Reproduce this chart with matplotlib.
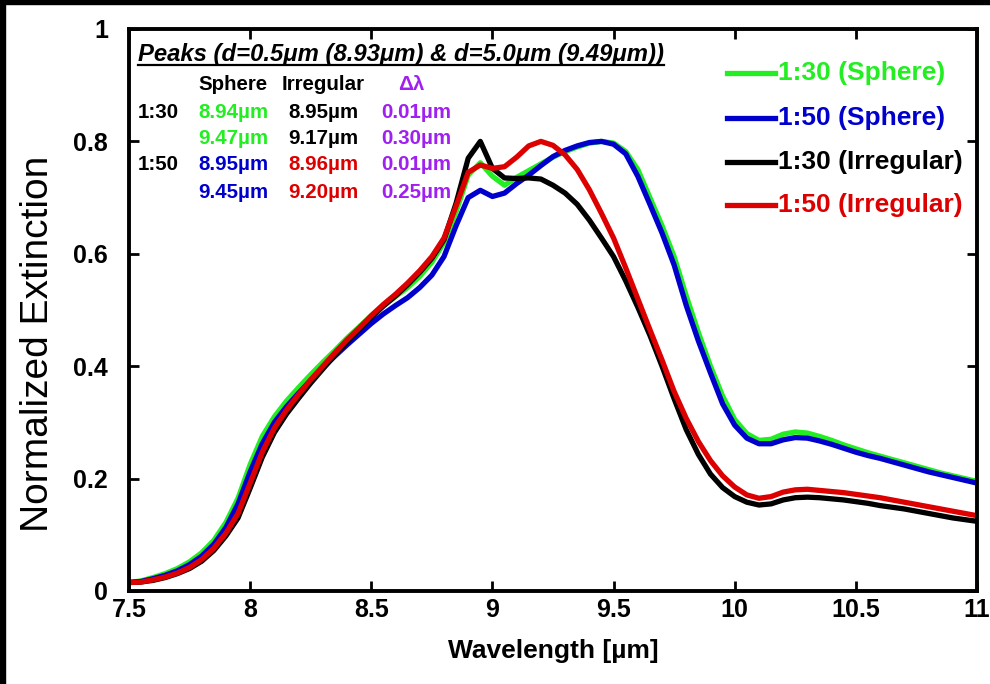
import matplotlib
matplotlib.use("Agg")
import matplotlib.pyplot as plt
from matplotlib.patches import Rectangle
from matplotlib.lines import Line2D

plt.rcParams['font.family'] = ['Liberation Sans', 'DejaVu Sans']

wavelength = [7.50, 7.55, 7.60, 7.65, 7.70, 7.75, 7.80, 7.85, 7.90, 7.95,
              8.00, 8.05, 8.10, 8.15, 8.20, 8.25, 8.30, 8.35, 8.40, 8.45,
              8.50, 8.55, 8.60, 8.65, 8.70, 8.75, 8.80, 8.85, 8.90, 8.95,
              9.00, 9.05, 9.10, 9.15, 9.20, 9.25, 9.30, 9.35, 9.40, 9.45,
              9.50, 9.55, 9.60, 9.65, 9.70, 9.75, 9.80, 9.85, 9.90, 9.95,
              10.00, 10.05, 10.10, 10.15, 10.20, 10.25, 10.30, 10.35, 10.40, 10.45,
              10.50, 10.55, 10.60, 10.65, 10.70, 10.75, 10.80, 10.85, 10.90, 10.95,
              11.00]

sphere_130 = [0.015, 0.018, 0.024, 0.031, 0.040, 0.052, 0.068, 0.090, 0.122, 0.165,
              0.225, 0.275, 0.310, 0.338, 0.362, 0.385, 0.407, 0.428, 0.450, 0.470,
              0.490, 0.508, 0.524, 0.540, 0.560, 0.585, 0.620, 0.675, 0.740, 0.762,
              0.738, 0.722, 0.736, 0.748, 0.760, 0.772, 0.782, 0.790, 0.797, 0.800,
              0.797, 0.782, 0.750, 0.700, 0.650, 0.595, 0.525, 0.460, 0.400, 0.347,
              0.305, 0.280, 0.268, 0.270, 0.279, 0.283, 0.281, 0.275, 0.268, 0.260,
              0.253, 0.246, 0.240, 0.234, 0.228, 0.222, 0.216, 0.210, 0.205, 0.200,
              0.195]

sphere_150 = [0.015, 0.017, 0.022, 0.028, 0.036, 0.047, 0.062, 0.083, 0.113, 0.155,
              0.212, 0.262, 0.300, 0.328, 0.352, 0.375, 0.397, 0.418, 0.438, 0.457,
              0.476, 0.493, 0.508, 0.522, 0.540, 0.562, 0.595, 0.650, 0.700, 0.713,
              0.702, 0.708, 0.725, 0.740, 0.757, 0.773, 0.784, 0.792, 0.798, 0.800,
              0.795, 0.778, 0.738, 0.688, 0.637, 0.580, 0.508, 0.445, 0.388, 0.333,
              0.295, 0.272, 0.262, 0.262, 0.269, 0.273, 0.272, 0.267, 0.261, 0.254,
              0.247, 0.241, 0.236, 0.230, 0.224, 0.218, 0.212, 0.207, 0.202, 0.197,
              0.192]

irregular_130 = [0.015, 0.016, 0.019, 0.024, 0.031, 0.040, 0.053, 0.072, 0.098, 0.130,
                 0.183, 0.238, 0.282, 0.315, 0.343, 0.370, 0.395, 0.420, 0.443, 0.465,
                 0.487, 0.507, 0.525, 0.545, 0.567, 0.592, 0.625, 0.690, 0.770, 0.800,
                 0.752, 0.735, 0.734, 0.735, 0.733, 0.722, 0.708, 0.688, 0.660, 0.628,
                 0.595, 0.552, 0.505, 0.455, 0.400, 0.342, 0.287, 0.243, 0.208, 0.184,
                 0.168, 0.158, 0.153, 0.155, 0.162, 0.166, 0.167, 0.166, 0.164, 0.162,
                 0.159, 0.156, 0.152, 0.149, 0.146, 0.142, 0.138, 0.134, 0.130, 0.127,
                 0.124]

irregular_150 = [0.015, 0.016, 0.020, 0.025, 0.032, 0.042, 0.056, 0.076, 0.103, 0.138,
                 0.192, 0.247, 0.290, 0.322, 0.350, 0.376, 0.400, 0.424, 0.447, 0.468,
                 0.490, 0.510, 0.528, 0.548, 0.570, 0.595, 0.628, 0.685, 0.745, 0.758,
                 0.752, 0.755, 0.772, 0.792, 0.800, 0.793, 0.776, 0.750, 0.714, 0.672,
                 0.628, 0.575, 0.520, 0.465, 0.411, 0.355, 0.307, 0.266, 0.232, 0.205,
                 0.185, 0.171, 0.165, 0.168, 0.176, 0.180, 0.181, 0.179, 0.177, 0.175,
                 0.172, 0.169, 0.166, 0.162, 0.158, 0.154, 0.150, 0.146, 0.142, 0.138,
                 0.134]

series_labels = ['1:30 (Sphere)', '1:50 (Sphere)', '1:30 (Irregular)', '1:50 (Irregular)']
series_colors = ['#22ee22', '#0000cc', '#000000', '#dd0000']
series_values = [sphere_130, sphere_150, irregular_130, irregular_150]

xticks = [7.5, 8, 8.5, 9, 9.5, 10, 10.5, 11]
xticklabels = ['7.5', '8', '8.5', '9', '9.5', '10', '10.5', '11']
yticks = [0, 0.2, 0.4, 0.6, 0.8, 1]
yticklabels = ['0', '0.2', '0.4', '0.6', '0.8', '1']

title_text = 'Peaks (d=0.5\u03bcm (8.93\u03bcm) & d=5.0\u03bcm (9.49\u03bcm))'
col_headers = ['Sphere', 'Irregular', '\u0394\u03bb']
row_labels = ['1:30', '', '1:50', '']
sphere_peaks = ['8.94\u00b5m', '9.47\u00b5m', '8.95\u00b5m', '9.45\u00b5m']
irregular_peaks = ['8.95\u00b5m', '9.17\u00b5m', '8.96\u00b5m', '9.20\u00b5m']
delta_peaks = ['0.01\u00b5m', '0.30\u00b5m', '0.01\u00b5m', '0.25\u00b5m']
sphere_colors = ['#22ee22', '#22ee22', '#0000cc', '#0000cc']
irregular_colors = ['#000000', '#000000', '#dd0000', '#dd0000']
purple = '#a020f0'

W, H = 990, 684
fig = plt.figure(figsize=(W / 100, H / 100), dpi=100)
ax = fig.add_axes([129 / W, 1 - 591 / H, (977 - 129) / W, (591 - 29) / H])

lines = []
for vals, col, lab in zip(series_values, series_colors, series_labels):
    ln, = ax.plot(wavelength, vals, color=col, lw=3.8, label=lab,
                  solid_joinstyle='round')
    lines.append(ln)

ax.set_xlim(7.5, 11)
ax.set_ylim(0, 1)
ax.set_xticks(xticks)
ax.set_xticklabels(xticklabels)
ax.set_yticks(yticks)
ax.set_yticklabels(yticklabels)
ax.tick_params(direction='in', length=7, width=2, top=True, right=True,
               labelsize=18)
ax.tick_params(axis='y', pad=15)
ax.tick_params(axis='x', pad=5)
for lab in ax.get_xticklabels() + ax.get_yticklabels():
    lab.set_fontweight('bold')
for s in ax.spines.values():
    s.set_linewidth(2.8)

ax.set_xlabel('Wavelength [\u00b5m]', fontsize=19, fontweight='bold', labelpad=12)


def ftext(x, y, s, **kw):
    return fig.text(x / W, 1 - y / H, s, **kw)


ftext(38, 344, 'Normalized Extinction', fontsize=28, rotation=90,
      ha='center', va='center')

# legend (drawn manually to match spacing)
leg_y = [73, 118, 162, 205]
for ln, y in zip(lines, leg_y):
    fig.add_artist(Line2D([727 / W, 775 / W], [1 - y / H, 1 - y / H],
                          transform=fig.transFigure, color=ln.get_color(), lw=3.8))
    ftext(778, y, ln.get_label(), fontsize=19, fontweight='bold',
          color=ln.get_color(), va='center', ha='left')

t = ftext(138, 55, title_text, fontsize=17.2, fontweight='bold', style='italic',
          va='center', ha='left')

fs = 14.8
ftext(198, 84, col_headers[0], fontsize=fs, fontweight='bold', va='center')
ftext(282, 84, col_headers[1], fontsize=fs, fontweight='bold', va='center')
ftext(411, 84, col_headers[2], fontsize=fs, fontweight='bold', va='center',
      ha='center', color=purple)
row_y = [112, 139, 165, 192]
for i, y in enumerate(row_y):
    if row_labels[i]:
        ftext(138, y, row_labels[i], fontsize=fs, fontweight='bold', va='center')
    ftext(198, y, sphere_peaks[i], fontsize=fs, fontweight='bold', va='center',
          color=sphere_colors[i])
    ftext(288, y, irregular_peaks[i], fontsize=fs, fontweight='bold', va='center',
          color=irregular_colors[i])
    ftext(381, y, delta_peaks[i], fontsize=fs, fontweight='bold', va='center',
          color=purple)

fig.canvas.draw()
bb = t.get_window_extent()
fig.add_artist(Line2D([bb.x0 / W, bb.x1 / W], [(H - 65) / H, (H - 65) / H],
                      transform=fig.transFigure, color='black', lw=1.6))

fig.add_artist(Rectangle((0, 0), 5 / W, 1, transform=fig.transFigure,
                         color='black', zorder=10))
fig.add_artist(Rectangle((0, 1 - 4 / H), 1, 4 / H, transform=fig.transFigure,
                         color='black', zorder=10))

fig.savefig('out.png', dpi=100)
